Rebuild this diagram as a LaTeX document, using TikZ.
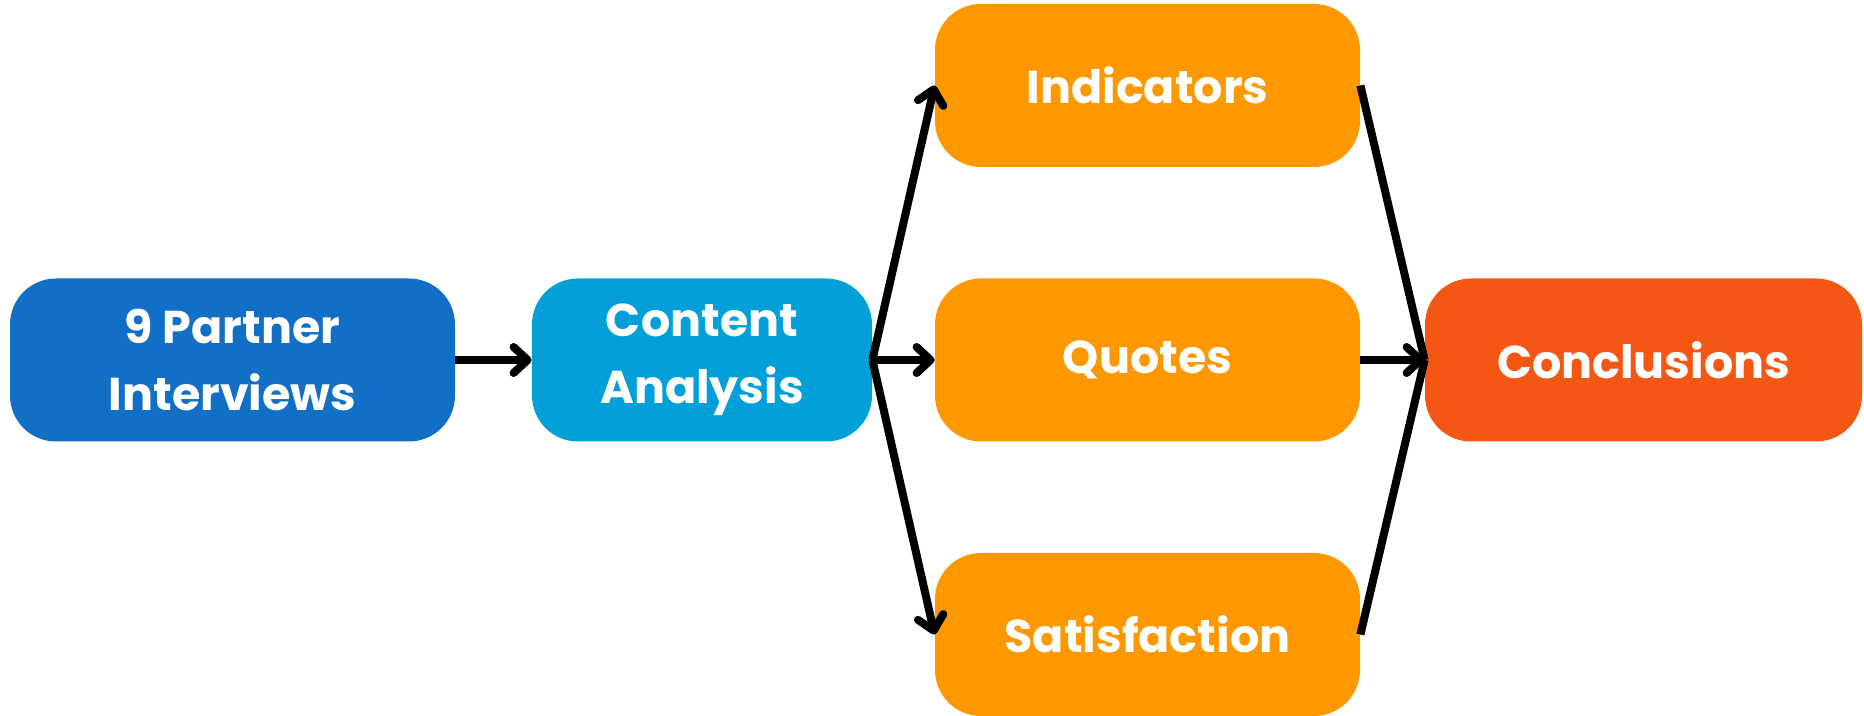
\documentclass[tikz,border=0pt]{standalone}
\usepackage{fontspec}
\setmainfont{Poppins}
\usetikzlibrary{arrows.meta}
\definecolor{interviewblue}{HTML}{1170C6}
\definecolor{contentblue}{HTML}{039FD8}
\definecolor{resultorange}{HTML}{FD9801}
\definecolor{endorange}{HTML}{F45613}
\tikzset{
  box/.style={rounded corners=23pt, inner sep=0pt, minimum height=81.5pt, text=white, align=center, font=\bfseries\fontsize{23}{33.5}\selectfont},
  arr/.style={line width=4pt, -{Straight Barb[length=7pt, width=13pt, line cap=round, line join=round]}},
  link/.style={line width=4pt}
}
\begin{document}
\begin{tikzpicture}[x=0.5pt,y=-0.5pt]
\useasboundingbox (0,0) rectangle (1864,716);
\node[box, fill=interviewblue, minimum width=222.5pt] (interviews) at (232.5,360) {9 Partner\\Interviews};
\node[box, fill=contentblue, minimum width=170pt] (content) at (702,360) {Content\\Analysis};
\foreach \name/\txt/\y in { indicators/Indicators/85.5 , quotes/Quotes/360 , satisfaction/Satisfaction/634.5 } { \node[box, fill=resultorange, minimum width=212.5pt] (\name) at (1147.5,\y) {\txt}; };
\node[box, fill=endorange, minimum width=218.5pt] (conclusions) at (1643.5,360) {Conclusions};
\draw[arr] (interviews) -- (content);
\foreach \name in {indicators,quotes,satisfaction} { \draw[arr] (content.east) -- (\name.west); };
\draw[link] (indicators.east) -- (conclusions.west); \draw[link] (satisfaction.east) -- (conclusions.west);
\draw[arr] (quotes) -- (conclusions);
\end{tikzpicture}
\end{document}
